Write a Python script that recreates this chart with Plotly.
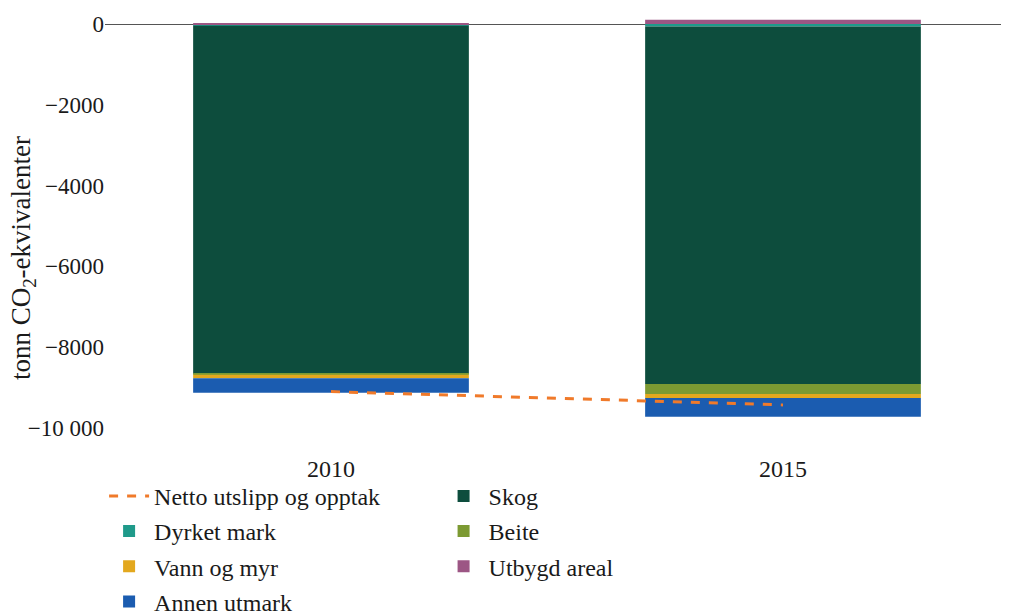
import plotly.graph_objects as go

years = ["2010", "2015"]
dyrket_mark = [-40, -60]
skog = [-8620, -8850]
beite = [-20, -250]
vann_og_myr = [-90, -100]
annen_utmark = [-360, -460]
utbygd_areal = [20, 110]
netto = [-9100, -9430]

y_tickvals = [0, -2000, -4000, -6000, -8000, -10000]
y_ticktext = ["0", "\u22122000", "\u22124000", "\u22126000", "\u22128000", "\u221210 000"]
y_title = "tonn CO<sub>2</sub>-ekvivalenter"

FONT = "Liberation Serif"
fig = go.Figure()

bars = [
    ("Dyrket mark", dyrket_mark, "#1f9a8a", "legend", 2),
    ("Skog", skog, "#0d4d3d", "legend2", 1),
    ("Beite", beite, "#7c9a32", "legend2", 2),
    ("Vann og myr", vann_og_myr, "#e3a81e", "legend", 3),
    ("Annen utmark", annen_utmark, "#1b5cb0", "legend", 4),
    ("Utbygd areal", utbygd_areal, "#9c5684", "legend2", 3),
]
for name, vals, col, leg, rank in bars:
    fig.add_trace(go.Bar(x=years, y=vals, name=name, marker=dict(color=col, line=dict(width=0)),
                         legend=leg, legendrank=rank, legendgroup=name))

fig.add_trace(go.Scatter(x=years, y=netto, name="Netto utslipp og opptak", mode="lines",
                         line=dict(color="#f07a2a", width=3, dash="dash"),
                         legend="legend", legendrank=1, legendgroup="netto"))

fig.update_layout(
    width=1009, height=615,
    barmode="relative", bargap=0.39,
    paper_bgcolor="white", plot_bgcolor="white",
    margin=dict(l=97, r=8, t=6, b=191, autoexpand=False),
    font=dict(family=FONT, size=23, color="#1a1a1a"),
    legend=dict(x=-0.001, y=-0.100, xanchor="left", yanchor="top", itemwidth=40,
                orientation="v", tracegroupgap=1, font=dict(size=24), bgcolor="rgba(0,0,0,0)"),
    legend2=dict(x=0.369, y=-0.100, xanchor="left", yanchor="top", itemwidth=40,
                 orientation="v", tracegroupgap=1, font=dict(size=24), bgcolor="rgba(0,0,0,0)"),
    annotations=[dict(text=y_title, xref="paper", yref="paper", x=-0.0907, y=0.416,
                      xanchor="center", yanchor="middle", textangle=-90, showarrow=False,
                      font=dict(size=27, family=FONT, color="#1a1a1a"))],
)
fig.update_xaxes(showgrid=False, showline=False, ticks="", ticklabelstandoff=20,
                 tickfont=dict(size=24))
fig.update_yaxes(range=[-10100, 250], tickvals=y_tickvals, ticktext=y_ticktext, showgrid=False,
                 zeroline=True, zerolinecolor="#555", zerolinewidth=1.2, showline=False, ticks="",
                 tickfont=dict(size=23))

fig.write_html("out.html")
